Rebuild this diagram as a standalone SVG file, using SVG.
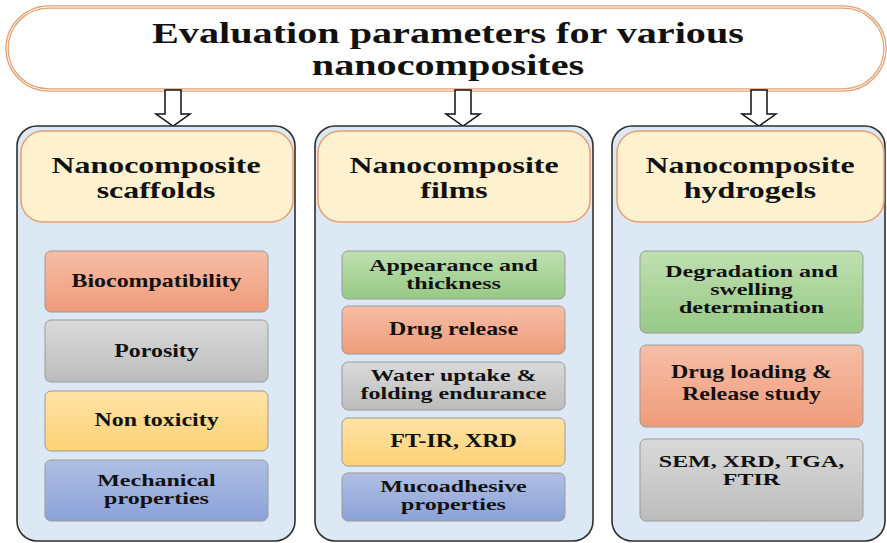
<svg xmlns="http://www.w3.org/2000/svg" width="887" height="543" viewBox="0 0 887 543">
<defs>
<linearGradient id="gRed" x1="0" y1="0" x2="0" y2="1"><stop offset="0" stop-color="#f6bea6"/><stop offset="1" stop-color="#ef9b7b"/></linearGradient>
<linearGradient id="gGray" x1="0" y1="0" x2="0" y2="1"><stop offset="0" stop-color="#dadada"/><stop offset="1" stop-color="#bcbcbc"/></linearGradient>
<linearGradient id="gYel" x1="0" y1="0" x2="0" y2="1"><stop offset="0" stop-color="#ffe3a6"/><stop offset="1" stop-color="#fdd276"/></linearGradient>
<linearGradient id="gBlue" x1="0" y1="0" x2="0" y2="1"><stop offset="0" stop-color="#b0bfe3"/><stop offset="1" stop-color="#8ba2d9"/></linearGradient>
<linearGradient id="gGreen" x1="0" y1="0" x2="0" y2="1"><stop offset="0" stop-color="#bfe0b0"/><stop offset="1" stop-color="#97c986"/></linearGradient>
</defs>
<style>
text{font-family:"Liberation Serif","Times New Roman",serif;font-weight:bold;fill:#111;text-anchor:middle}
.t{font-size:30px}
.h{font-size:24px}
.b{font-size:18px}
.s{font-size:16px}
.panel{fill:#dde8f5;stroke:#2e2e2e;stroke-width:1.6}
.head{fill:#fef1cf;stroke:#e5a072;stroke-width:1.5}
.box{stroke:#9a9a9a;stroke-width:1}
.arrow{fill:#fff;stroke:#111;stroke-width:1.5;stroke-linejoin:miter}
</style>

<g id="title">
<rect x="7" y="7" width="878" height="83" rx="41.5" fill="#fff" stroke="#e3a070" stroke-width="3.5"/>
<rect x="7" y="7" width="878" height="83" rx="41.5" fill="none" stroke="#fff" stroke-width="1"/>
<g transform="translate(448,0) scale(1.34,1)"><text class="t" x="0" y="43">Evaluation parameters for various</text><text class="t" x="0" y="75">nanocomposites</text></g>
</g>

<g id="connectors">
<path class="arrow" d="M165 90 L181 90 L181 114 L190 114 L173 126 L156 114 L165 114 Z"/>
<path class="arrow" d="M455 90 L471 90 L471 114 L480 114 L463 126 L446 114 L455 114 Z"/>
<path class="arrow" d="M751 90 L767 90 L767 114 L776 114 L759 126 L742 114 L751 114 Z"/>
</g>

<g id="scaffolds">
<rect class="panel" x="17" y="126" width="278" height="415" rx="20"/>
<rect class="head" x="21" y="131" width="272" height="91" rx="22"/>
<g transform="translate(156,0) scale(1.33,1)"><text class="h" x="0" y="173">Nanocomposite</text><text class="h" x="0" y="198">scaffolds</text></g>
</g>
<g id="biocompatibility"><rect class="box" x="45" y="251" width="223" height="61" rx="6" fill="url(#gRed)"/>
<g transform="translate(156.5,0) scale(1.33,1)"><text class="b" x="0" y="287">Biocompatibility</text></g></g>
<g id="porosity"><rect class="box" x="45" y="320" width="223" height="62" rx="6" fill="url(#gGray)"/>
<g transform="translate(156.5,0) scale(1.33,1)"><text class="b" x="0" y="357">Porosity</text></g></g>
<g id="nontoxicity"><rect class="box" x="45" y="391" width="223" height="60" rx="6" fill="url(#gYel)"/>
<g transform="translate(156.5,0) scale(1.33,1)"><text class="b" x="0" y="426">Non toxicity</text></g></g>
<g id="mechanical"><rect class="box" x="45" y="460" width="223" height="61" rx="6" fill="url(#gBlue)"/>
<g transform="translate(156.5,0) scale(1.5,1)"><text class="s" x="0" y="486">Mechanical</text><text class="s" x="0" y="504">properties</text></g></g>

<g id="films">
<rect class="panel" x="315" y="126" width="278" height="415" rx="20"/>
<rect class="head" x="318" y="131" width="272" height="91" rx="22"/>
<g transform="translate(454,0) scale(1.33,1)"><text class="h" x="0" y="173">Nanocomposite</text><text class="h" x="0" y="198">films</text></g>
</g>
<g id="appearance"><rect class="box" x="342" y="251" width="223" height="48" rx="6" fill="url(#gGreen)"/>
<g transform="translate(453.5,0) scale(1.5,1)"><text class="s" x="0" y="271">Appearance and</text><text class="s" x="0" y="289">thickness</text></g></g>
<g id="drugrelease"><rect class="box" x="342" y="306" width="223" height="48" rx="6" fill="url(#gRed)"/>
<g transform="translate(453.5,0) scale(1.33,1)"><text class="b" x="0" y="335">Drug release</text></g></g>
<g id="wateruptake"><rect class="box" x="342" y="362" width="223" height="48" rx="6" fill="url(#gGray)"/>
<g transform="translate(453.5,0) scale(1.5,1)"><text class="s" x="0" y="381">Water uptake &amp;</text><text class="s" x="0" y="399">folding endurance</text></g></g>
<g id="ftir"><rect class="box" x="342" y="418" width="223" height="48" rx="6" fill="url(#gYel)"/>
<g transform="translate(453.5,0) scale(1.33,1)"><text class="b" x="0" y="447">FT-IR, XRD</text></g></g>
<g id="mucoadhesive"><rect class="box" x="342" y="473" width="223" height="48" rx="6" fill="url(#gBlue)"/>
<g transform="translate(453.5,0) scale(1.5,1)"><text class="s" x="0" y="492">Mucoadhesive</text><text class="s" x="0" y="510">properties</text></g></g>

<g id="hydrogels">
<rect class="panel" x="612" y="126" width="273" height="415" rx="20"/>
<rect class="head" x="617" y="131" width="267" height="91" rx="22"/>
<g transform="translate(750,0) scale(1.33,1)"><text class="h" x="0" y="173">Nanocomposite</text><text class="h" x="0" y="198">hydrogels</text></g>
</g>
<g id="degradation"><rect class="box" x="640" y="251" width="223" height="82" rx="6" fill="url(#gGreen)"/>
<g transform="translate(751.5,0) scale(1.5,1)"><text class="s" x="0" y="277">Degradation and</text><text class="s" x="0" y="295">swelling</text><text class="s" x="0" y="313">determination</text></g></g>
<g id="drugloading"><rect class="box" x="640" y="345" width="223" height="82" rx="6" fill="url(#gRed)"/>
<g transform="translate(751.5,0) scale(1.33,1)"><text class="b" x="0" y="378">Drug loading &amp;</text><text class="b" x="0" y="400">Release study</text></g></g>
<g id="sem"><rect class="box" x="640" y="439" width="223" height="82" rx="6" fill="url(#gGray)"/>
<g transform="translate(751.5,0) scale(1.5,1)"><text class="s" x="0" y="467">SEM, XRD, TGA,</text><text class="s" x="0" y="485">FTIR</text></g></g>
</svg>
